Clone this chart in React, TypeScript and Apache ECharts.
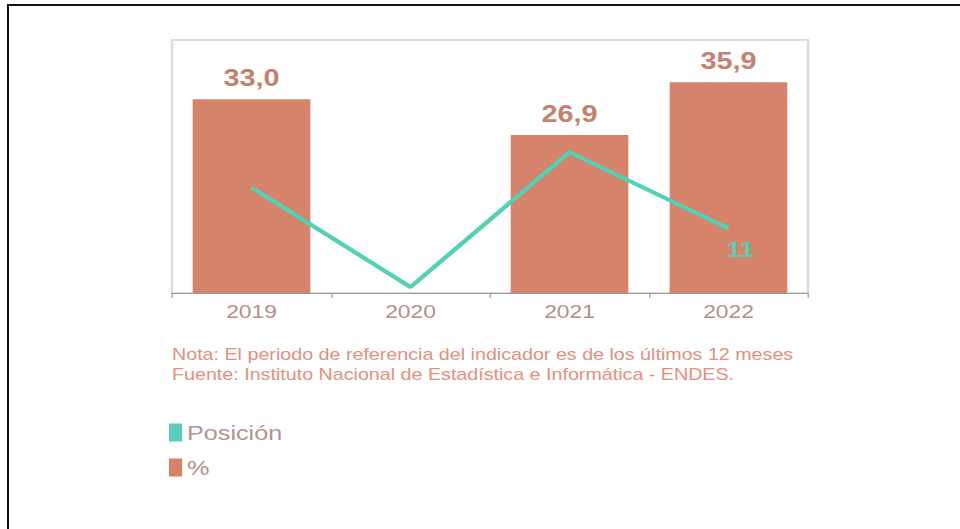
import React, { useEffect, useRef } from "react";
import * as echarts from "echarts";

const categories = ["2019", "2020", "2021", "2022"];
const pctValues: (number | null)[] = [33.0, null, 26.9, 35.9];
const positionValues = [18, 1, 24, 11];
const noteLines = [
  "Nota: El periodo de referencia del indicador es de los últimos 12 meses",
  "Fuente: Instituto Nacional de Estadística e Informática - ENDES.",
];

const S = 1.2;
const W0 = 960 / S;
const FONT = "Liberation Sans, Arial, sans-serif";

export default function App() {
  const ref = useRef<HTMLDivElement>(null);
  useEffect(() => {
    if (!ref.current) return;
    const chart = echarts.init(ref.current, null, { renderer: "svg" });
    const sx = (x: number) => x / S;
    chart.setOption({
      animation: false,
      backgroundColor: "#ffffff",
      grid: {
        left: sx(172),
        right: W0 - sx(808),
        top: 40,
        bottom: 529 - 293,
        show: true,
        borderColor: "#dcdcdc",
        borderWidth: 2,
      },
      legend: {
        orient: "vertical",
        left: sx(163),
        top: 417,
        itemWidth: 11,
        itemHeight: 18,
        itemGap: 14,
        textStyle: { fontSize: 21, color: "#b6928e", fontFamily: FONT, padding: [0, 0, 0, -1] },
        data: [
          { name: "Posición", icon: "rect", itemStyle: { color: "#5ccbb8" } },
          { name: "%", icon: "rect", itemStyle: { color: "#d5836b" } },
        ],
      },
      xAxis: {
        type: "category",
        data: categories,
        axisLine: { show: true, lineStyle: { color: "#9a9a9a", width: 1 } },
        axisTick: { show: true, interval: 0, length: 5, lineStyle: { color: "#9a9a9a" } },
        axisLabel: {
          fontSize: 19,
          color: "#b08f8c",
          margin: 9,
          fontFamily: FONT,
        },
      },
      yAxis: {
        type: "value",
        min: 0,
        max: 43.1,
        show: false,
        splitLine: { show: false },
      },
      series: [
        {
          name: "%",
          type: "bar",
          data: pctValues.map((v) => (v == null ? "-" : v)),
          barWidth: "74%",
          itemStyle: { color: "#d5836b" },
          label: {
            show: true,
            position: "top",
            distance: 9,
            fontSize: 24,
            fontWeight: "bold",
            color: "#c5806f",
            fontFamily: FONT,
            formatter: (p: any) => Number(p.value).toFixed(1).replace(".", ","),
          },
          z: 1,
        },
        {
          name: "Posición",
          type: "line",
          data: positionValues.map((v, i) =>
            i === positionValues.length - 1
              ? {
                  value: v,
                  label: {
                    show: true,
                    position: "bottom",
                    distance: 4,
                    offset: [10, 6],
                    fontSize: 22,
                    fontWeight: "bold",
                    color: "#58cdb5",
                    fontFamily: FONT,
                  },
                }
              : v
          ),
          symbol: "circle",
          symbolSize: 0.1,
          itemStyle: { color: "#53d1b4" },
          lineStyle: { color: "#53d1b4", width: 4 },
          label: { show: false },
          z: 3,
        },
      ],
      graphic: noteLines.map((t, i) => ({
        type: "text",
        left: sx(172),
        top: 347 + i * 20,
        style: {
          text: t,
          fontSize: 16.4,
          fill: "#e58f80",
          fontFamily: FONT,
        },
      })),
    });
    return () => chart.dispose();
  }, []);
  return (
    <div
      style={{
        position: "fixed",
        left: 0,
        top: 0,
        width: 960,
        height: 529,
        overflow: "hidden",
        background: "#fff",
      }}
    >
      <div
        ref={ref}
        style={{
          position: "absolute",
          left: 0,
          top: 0,
          width: W0,
          height: 529,
          transform: `scaleX(${S})`,
          transformOrigin: "0 0",
        }}
      />
      <div
        style={{
          position: "absolute",
          left: 7,
          top: 4,
          width: 1000,
          height: 600,
          borderTop: "2px solid #111",
          borderLeft: "2px solid #111",
          pointerEvents: "none",
        }}
      />
    </div>
  );
}
